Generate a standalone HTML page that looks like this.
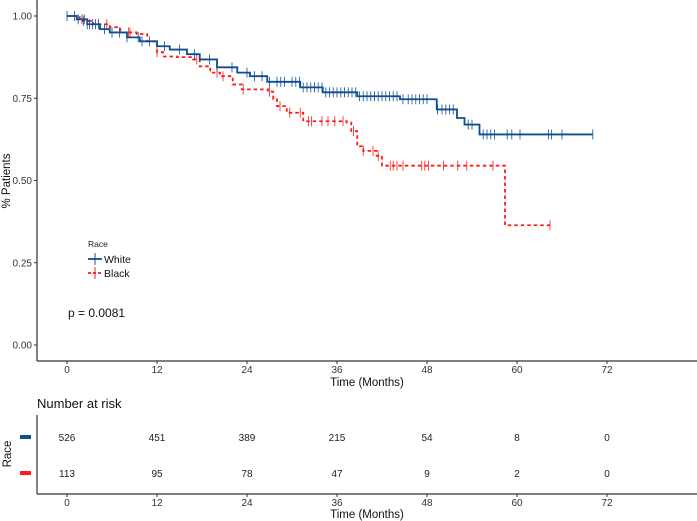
<!DOCTYPE html>
<html><head><meta charset="utf-8"><style>
body{margin:0;background:#fff}
svg{display:block;font-family:"Liberation Sans",Arial,sans-serif}
</style></head><body>
<svg id="c" width="697" height="521" viewBox="0 0 697 521" xmlns="http://www.w3.org/2000/svg">
<g id="axes"></g><g id="curves"></g><g id="risk"></g>
</svg>
<script>
// ---- data ----
const xTicks = [0, 12, 24, 36, 48, 60, 72];
const yTicks = [0, 0.25, 0.5, 0.75, 1.0];
const yTickLabels = ["0.00", "0.25", "0.50", "0.75", "1.00"];
const whiteStepTimes = [0, 1.3, 2.7, 4.4, 5.7, 8, 9.7, 12, 13.7, 16, 17.7, 20, 22.7, 24.4, 26.7, 31.1, 34.1, 38.7, 44.4, 49.3, 52, 53, 55];
const whiteStepSurv  = [1.0, 0.99, 0.975, 0.96, 0.95, 0.935, 0.923, 0.908, 0.898, 0.884, 0.868, 0.844, 0.828, 0.817, 0.80, 0.783, 0.768, 0.756, 0.747, 0.716, 0.69, 0.67, 0.64];
const whiteEnd = 70.1;
const whiteCensor = [0,1,1.5,2,2.3,2.7,3,3.4,3.8,4.2,5,6,7,8,9.5,10,11,13,15,17,19,20,22,24,25,26,27,28,28.5,29,30,30.5,31,31.5,32,32.5,33,33.5,34,34.5,35,35.5,36,36.5,37,37.5,38,38.5,39,39.5,40,40.5,41,41.5,42,42.5,43,43.5,44,44.8,45.5,46,46.5,47,47.5,48,49.4,50,50.5,51,51.5,53.5,54,55.5,56,56.5,57,58.7,59.3,60.4,64.2,64.6,66,70.1];
const blackStepTimes = [0, 1.7, 3.5, 5.7, 7.1, 9.3, 10.7, 12, 12.8, 14.7, 16.8, 17.7, 19.1, 20.4, 22.1, 23.3, 26.8, 27.5, 28, 29.3, 31.5, 37.3, 37.9, 38.7, 39.5, 41.3, 42, 58.4];
const blackStepSurv  = [1.0, 0.985, 0.975, 0.966, 0.95, 0.945, 0.923, 0.89, 0.877, 0.875, 0.868, 0.847, 0.828, 0.817, 0.792, 0.777, 0.77, 0.747, 0.726, 0.706, 0.68, 0.676, 0.65, 0.604, 0.59, 0.575, 0.545, 0.364];
const blackEnd = 64.4;
const blackCensor = [2.2,5.3,8.2,8.4,12,17.3,20,20.8,23.5,27,28.4,29.7,31.1,32.2,32.6,34,34.8,35.7,36.8,38.2,39.5,40.8,41.5,43.1,43.5,44,44.8,47.3,47.7,48.2,50.2,52.1,53.3,56.8,64.4];
const riskWhite = [526, 451, 389, 215, 54, 8, 0];
const riskBlack = [113, 95, 78, 47, 9, 2, 0];

// ---- scales ----
const X = m => 67 + m * 7.5;
const Y = s => 345 - s * 329;
const NS = "http://www.w3.org/2000/svg";
function mk(tag, attrs, parent, text){const e=document.createElementNS(NS,tag);for(const k in attrs)e.setAttribute(k,attrs[k]);if(text!==undefined)e.textContent=text;parent.appendChild(e);return e;}
const axes=document.getElementById('axes'), curves=document.getElementById('curves'), risk=document.getElementById('risk');
const BLUE="#0f4d92", RED="#ff1a1a";

let e;
e=mk('line',{x1:37,y1:0,x2:37,y2:361,stroke:'#333','stroke-width':1.2},axes);


e=mk('line',{x1:37,y1:361,x2:697,y2:361,stroke:'#333','stroke-width':1.2},axes);


yTicks.forEach((v,i)=>{
  mk('line',{x1:34,x2:37,y1:Y(v),y2:Y(v),stroke:'#333'},axes);
  e=mk('text',{x:32,y:Y(v)+3.5,'text-anchor':'end','font-size':10,fill:'#333'},axes,yTickLabels[i]);
  
  
});
xTicks.forEach(v=>{
  mk('line',{x1:X(v),x2:X(v),y1:361,y2:364,stroke:'#333'},axes);
  e=mk('text',{x:X(v),y:373,'text-anchor':'middle','font-size':10,fill:'#333'},axes,v);
  
  
});
e=mk('text',{x:367,y:386,'text-anchor':'middle','font-size':11.5,fill:'#111'},axes,'Time (Months)');


e=mk('text',{x:0,y:0,transform:'translate(10,181) rotate(-90)','text-anchor':'middle','font-size':11.5,fill:'#111'},axes,'% Patients');



function survAt(times,surv,t){let s=surv[0];for(let i=0;i<times.length;i++){if(times[i]<=t)s=surv[i];}return s;}
function drawCurve(times,surv,end,cens,color,dash,name){
  let d=`M${X(times[0])},${Y(surv[0])}`;
  for(let i=1;i<times.length;i++){d+=` H${X(times[i])} V${Y(surv[i])}`;}
  d+=` H${X(end)}`;
  const p=mk('path',{d:d,fill:'none',stroke:color,'stroke-width':1.8,'stroke-dasharray':dash},curves);
  
  
  cens.forEach(t=>{
    const s=survAt(times,surv,t);
    const c=mk('line',{x1:X(t),x2:X(t),y1:Y(s)-5,y2:Y(s)+5,stroke:color,'stroke-width':1,opacity:0.8},curves);
    
    
  });
}
drawCurve(blackStepTimes,blackStepSurv,blackEnd,blackCensor,RED,'3.5,3','black');
drawCurve(whiteStepTimes,whiteStepSurv,whiteEnd,whiteCensor,BLUE,'none','white');

e=mk('text',{x:88,y:247,'font-size':8.5,fill:'#222'},curves,'Race');


[[BLUE,'none','White',259],[RED,'3,2','Black',273]].forEach(([c,da,lab,y])=>{
  const g=mk('g',{},curves);
  
  
  mk('line',{x1:88,x2:102,y1:y,y2:y,stroke:c,'stroke-width':1.8,'stroke-dasharray':da},g);
  mk('line',{x1:95,x2:95,y1:y-6,y2:y+6,stroke:c,'stroke-width':1.2,opacity:0.8},g);
  mk('text',{x:104,y:y+4,'font-size':10.5,fill:'#111'},g,lab);
});
e=mk('text',{x:68,y:317,'font-size':12,fill:'#111'},curves,'p = 0.0081');



e=mk('text',{x:37,y:408,'font-size':13,fill:'#111'},risk,'Number at risk');


e=mk('line',{x1:37,y1:415,x2:37,y2:494,stroke:'#333','stroke-width':1.2},risk);


e=mk('line',{x1:37,y1:494,x2:697,y2:494,stroke:'#333','stroke-width':1.2},risk);


e=mk('rect',{x:20,y:435,width:11,height:4,fill:BLUE},risk);


e=mk('rect',{x:20,y:471,width:11,height:4,fill:RED},risk);


e=mk('text',{x:0,y:0,transform:'translate(11,454) rotate(-90)','text-anchor':'middle','font-size':11.5,fill:'#111'},risk,'Race');


xTicks.forEach((v,i)=>{
  e=mk('text',{x:X(v),y:441,'text-anchor':'middle','font-size':10,fill:'#222'},risk,riskWhite[i]);
  
  
  e=mk('text',{x:X(v),y:477,'text-anchor':'middle','font-size':10,fill:'#222'},risk,riskBlack[i]);
  
  
  mk('line',{x1:X(v),x2:X(v),y1:494,y2:497,stroke:'#333'},risk);
  e=mk('text',{x:X(v),y:506,'text-anchor':'middle','font-size':10,fill:'#333'},risk,v);
  
  
});
e=mk('text',{x:367,y:518,'text-anchor':'middle','font-size':11.5,fill:'#111'},risk,'Time (Months)');


</script>
</body></html>
